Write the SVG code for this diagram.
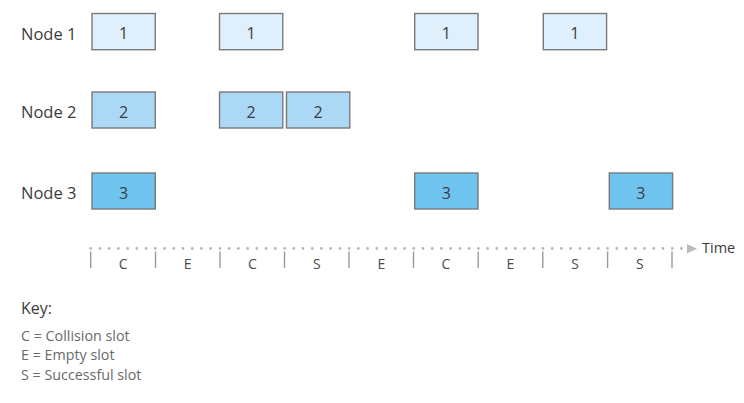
<svg xmlns="http://www.w3.org/2000/svg" width="744" height="403" viewBox="0 0 744 403">
<style>
  .lbl{font-family:"Open Sans","Noto Sans",sans-serif;font-size:16.5px;fill:#3c3c3c}
  .num{font-family:"Open Sans","Noto Sans",sans-serif;font-size:16px;fill:#3c3c3c;text-anchor:middle}
  .box{stroke:#7a7a7a;stroke-width:1.4}
  .n1{fill:#dfeffc}
  .n2{fill:#abd8f5}
  .n3{fill:#6ec4ef}
  .tick{stroke:#9a9a9a;stroke-width:1.4}
  .slot{font-family:"Open Sans","Noto Sans",sans-serif;font-size:14px;fill:#4a4a4a;text-anchor:middle}
  .key{font-family:"Open Sans","Noto Sans",sans-serif;font-size:14.3px;fill:#6a6a6a}
</style>
<rect width="744" height="403" fill="#ffffff"/>
<g id="labels">
  <text class="lbl" x="21" y="39.5">Node 1</text>
  <text class="lbl" x="21" y="118">Node 2</text>
  <text class="lbl" x="21" y="199">Node 3</text>
</g>
<g id="node1">
  <rect class="box n1" x="92" y="13.5" width="63.3" height="36.2"/><text class="num" x="123.6" y="39">1</text>
  <rect class="box n1" x="219.5" y="13.5" width="63.3" height="36.2"/><text class="num" x="251.1" y="39">1</text>
  <rect class="box n1" x="414.7" y="13.5" width="63.3" height="36.2"/><text class="num" x="446.3" y="39">1</text>
  <rect class="box n1" x="543.3" y="13.5" width="63.3" height="36.2"/><text class="num" x="574.9" y="39">1</text>
</g>
<g id="node2">
  <rect class="box n2" x="92" y="92" width="63.3" height="36" /><text class="num" x="123.6" y="117.5">2</text>
  <rect class="box n2" x="219.5" y="92" width="63.3" height="36"/><text class="num" x="251.1" y="117.5">2</text>
  <rect class="box n2" x="286.5" y="92" width="63.3" height="36"/><text class="num" x="318.1" y="117.5">2</text>
</g>
<g id="node3">
  <rect class="box n3" x="92" y="173" width="63.3" height="36"/><text class="num" x="123.6" y="198.5">3</text>
  <rect class="box n3" x="414.7" y="173" width="63.3" height="36"/><text class="num" x="446.3" y="198.5">3</text>
  <rect class="box n3" x="609.3" y="173" width="63.3" height="36"/><text class="num" x="640.9" y="198.5">3</text>
</g>
<g id="connectors">
  <line x1="90.7" y1="248.5" x2="682" y2="248.5" stroke="#b8b8b8" stroke-width="2.8" stroke-linecap="round" stroke-dasharray="0 9.23"/>
  <polygon points="687,244 697,248.7 687,253.4" fill="#bcbcbc"/>
  <g>
    <line class="tick" x1="90.7" y1="251.5" x2="90.7" y2="268"/>
    <line class="tick" x1="155.5" y1="251.5" x2="155.5" y2="268"/>
    <line class="tick" x1="220" y1="251.5" x2="220" y2="268"/>
    <line class="tick" x1="284.5" y1="251.5" x2="284.5" y2="268"/>
    <line class="tick" x1="349" y1="251.5" x2="349" y2="268"/>
    <line class="tick" x1="413.5" y1="251.5" x2="413.5" y2="268"/>
    <line class="tick" x1="478.2" y1="251.5" x2="478.2" y2="268"/>
    <line class="tick" x1="542.8" y1="251.5" x2="542.8" y2="268"/>
    <line class="tick" x1="607.6" y1="251.5" x2="607.6" y2="268"/>
    <line class="tick" x1="672" y1="251.5" x2="672" y2="268"/>
  </g>
</g>
<g id="timeline">
  <text class="slot" x="123.1" y="268.5">C</text>
  <text class="slot" x="187.7" y="268.5">E</text>
  <text class="slot" x="252.3" y="268.5">C</text>
  <text class="slot" x="316.8" y="268.5">S</text>
  <text class="slot" x="381.3" y="268.5">E</text>
  <text class="slot" x="445.9" y="268.5">C</text>
  <text class="slot" x="510.5" y="268.5">E</text>
  <text class="slot" x="575.2" y="268.5">S</text>
  <text class="slot" x="639.8" y="268.5">S</text>
  <text x="702" y="253.3" font-family="'Open Sans','Noto Sans',sans-serif" font-size="14.5" fill="#3c3c3c">Time</text>
</g>
<g id="key">
  <text x="21" y="314.3" font-family="'Open Sans','Noto Sans',sans-serif" font-size="16" fill="#3c3c3c">Key:</text>
  <text class="key" x="21" y="340.7">C = Collision slot</text>
  <text class="key" x="21" y="360.3">E = Empty slot</text>
  <text class="key" x="21" y="380">S = Successful slot</text>
</g>
</svg>
